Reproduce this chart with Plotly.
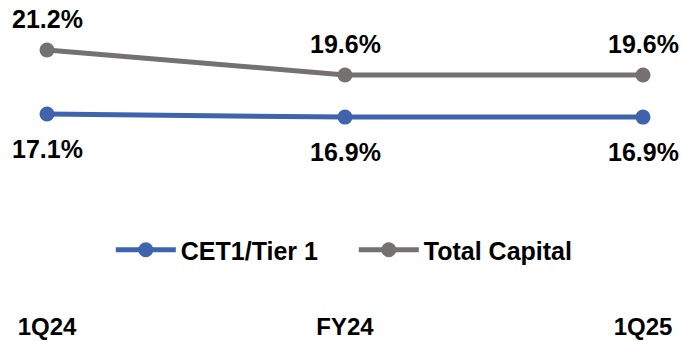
import plotly.graph_objects as go

categories = ["1Q24", "FY24", "1Q25"]
cet1 = [17.1, 16.9, 16.9]
total_capital = [21.2, 19.6, 19.6]
cet1_labels = ["17.1%", "16.9%", "16.9%"]
total_labels = ["21.2%", "19.6%", "19.6%"]

BLUE = "#3F64AD"
GRAY = "#767171"
FONT = "Liberation Sans"

xs = list(range(len(categories)))

fig = go.Figure()
fig.add_trace(go.Scatter(
    x=xs, y=cet1, mode="lines+markers", name="<b>CET1/Tier 1</b>",
    line=dict(color=BLUE, width=5), marker=dict(size=15, color=BLUE),
))
fig.add_trace(go.Scatter(
    x=xs, y=total_capital, mode="lines+markers", name="<b>Total Capital</b>",
    line=dict(color=GRAY, width=5), marker=dict(size=15, color=GRAY),
))

for x, y, t in zip(xs, total_capital, total_labels):
    fig.add_annotation(x=x, y=y, text=f"<b>{t}</b>", showarrow=False, yshift=31,
                       font=dict(family=FONT, size=25, color="#000000"))
for x, y, t in zip(xs, cet1, cet1_labels):
    fig.add_annotation(x=x, y=y, text=f"<b>{t}</b>", showarrow=False, yshift=-35,
                       font=dict(family=FONT, size=25, color="#000000"))

fig.update_layout(
    width=683, height=342,
    margin=dict(l=0, r=0, t=0, b=32),
    paper_bgcolor="white", plot_bgcolor="white",
    font=dict(family=FONT, color="#000000"),
    xaxis=dict(
        range=[-47 / 298, 2 + 40 / 298],
        tickmode="array", tickvals=xs,
        ticktext=[f"<b>{c}</b>" for c in categories],
        tickfont=dict(family=FONT, size=24, color="#000000"),
        showgrid=False, zeroline=False, showline=False, ticks="",
    ),
    yaxis=dict(
        range=[21.2 - 260 / 15.6, 21.2 + 50 / 15.6],
        visible=False, showgrid=False, zeroline=False,
    ),
    showlegend=True,
    legend=dict(
        orientation="h", x=0.518, xanchor="center", y=1 - 250 / 310, yanchor="middle",
        font=dict(family=FONT, size=25, color="#000000"),
        itemwidth=60, entrywidth=168, bgcolor="rgba(0,0,0,0)",
    ),
)

fig.write_html("out.html")
